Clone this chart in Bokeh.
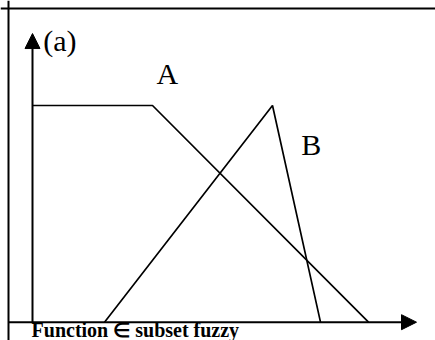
from bokeh.plotting import figure
from bokeh.models import Range1d, Arrow, NormalHead, Span
from bokeh.core.properties import value
from bokeh.embed import file_html
from bokeh.resources import INLINE

# Membership functions (universe units, membership 0..1)
A_x = [0, 5, 14]
A_y = [1, 1, 0]
B_x = [3, 10, 12]
B_y = [0, 1, 0]

labels = ["A", "B", "(a)"]
label_x = [5.17, 11.2, 0.45]
label_y = [1.222, 0.895, 1.375]

x_axis_end = 16
y_axis_end = 1.332
xlabel = "Function \u2208 subset fuzzy"

PX_X = 24.0    # pixels per x unit
PX_Y = 216.7   # pixels per y unit
W, H = 435, 340
x0 = -1 - 8 / PX_X
y0 = -0.0845
p = figure(width=W, height=H, output_backend="svg", toolbar_location=None,
           x_range=Range1d(x0, x0 + W / PX_X), y_range=Range1d(y0, y0 + H / PX_Y),
           min_border=0, min_border_left=0, min_border_right=0, min_border_top=0, min_border_bottom=0)
p.axis.visible = False
p.grid.visible = False
p.outline_line_color = None
p.background_fill_color = "white"
p.border_fill_color = "white"

# frame lines (top and left)
p.add_layout(Span(location=1.4476, dimension="width", line_color="black", line_width=2))
p.add_layout(Span(location=-1.0, dimension="height", line_color="black", line_width=2))

# axes as arrows
p.add_layout(Arrow(end=NormalHead(size=15, fill_color="black", line_color="black"),
                   x_start=-1, y_start=0, x_end=x_axis_end, y_end=0,
                   line_color="black", line_width=2))
p.add_layout(Arrow(end=NormalHead(size=15, fill_color="black", line_color="black"),
                   x_start=0, y_start=0, x_end=0, y_end=y_axis_end,
                   line_color="black", line_width=2))

p.line(A_x, A_y, line_color="black", line_width=1.7)
p.line(B_x, B_y, line_color="black", line_width=1.7)

p.text(x=label_x, y=label_y, text=labels, text_font=value("Liberation Serif"),
       text_font_size="30px", text_baseline="top", text_align="left", text_color="black")

p.text(x=[-0.04], y=[0.0165], text=[xlabel], text_font=value("Liberation Serif"),
       text_font_size="20px", text_font_style="bold", text_baseline="top", text_align="left",
       text_color="black")

open("out.html", "w").write(file_html(p, INLINE))
